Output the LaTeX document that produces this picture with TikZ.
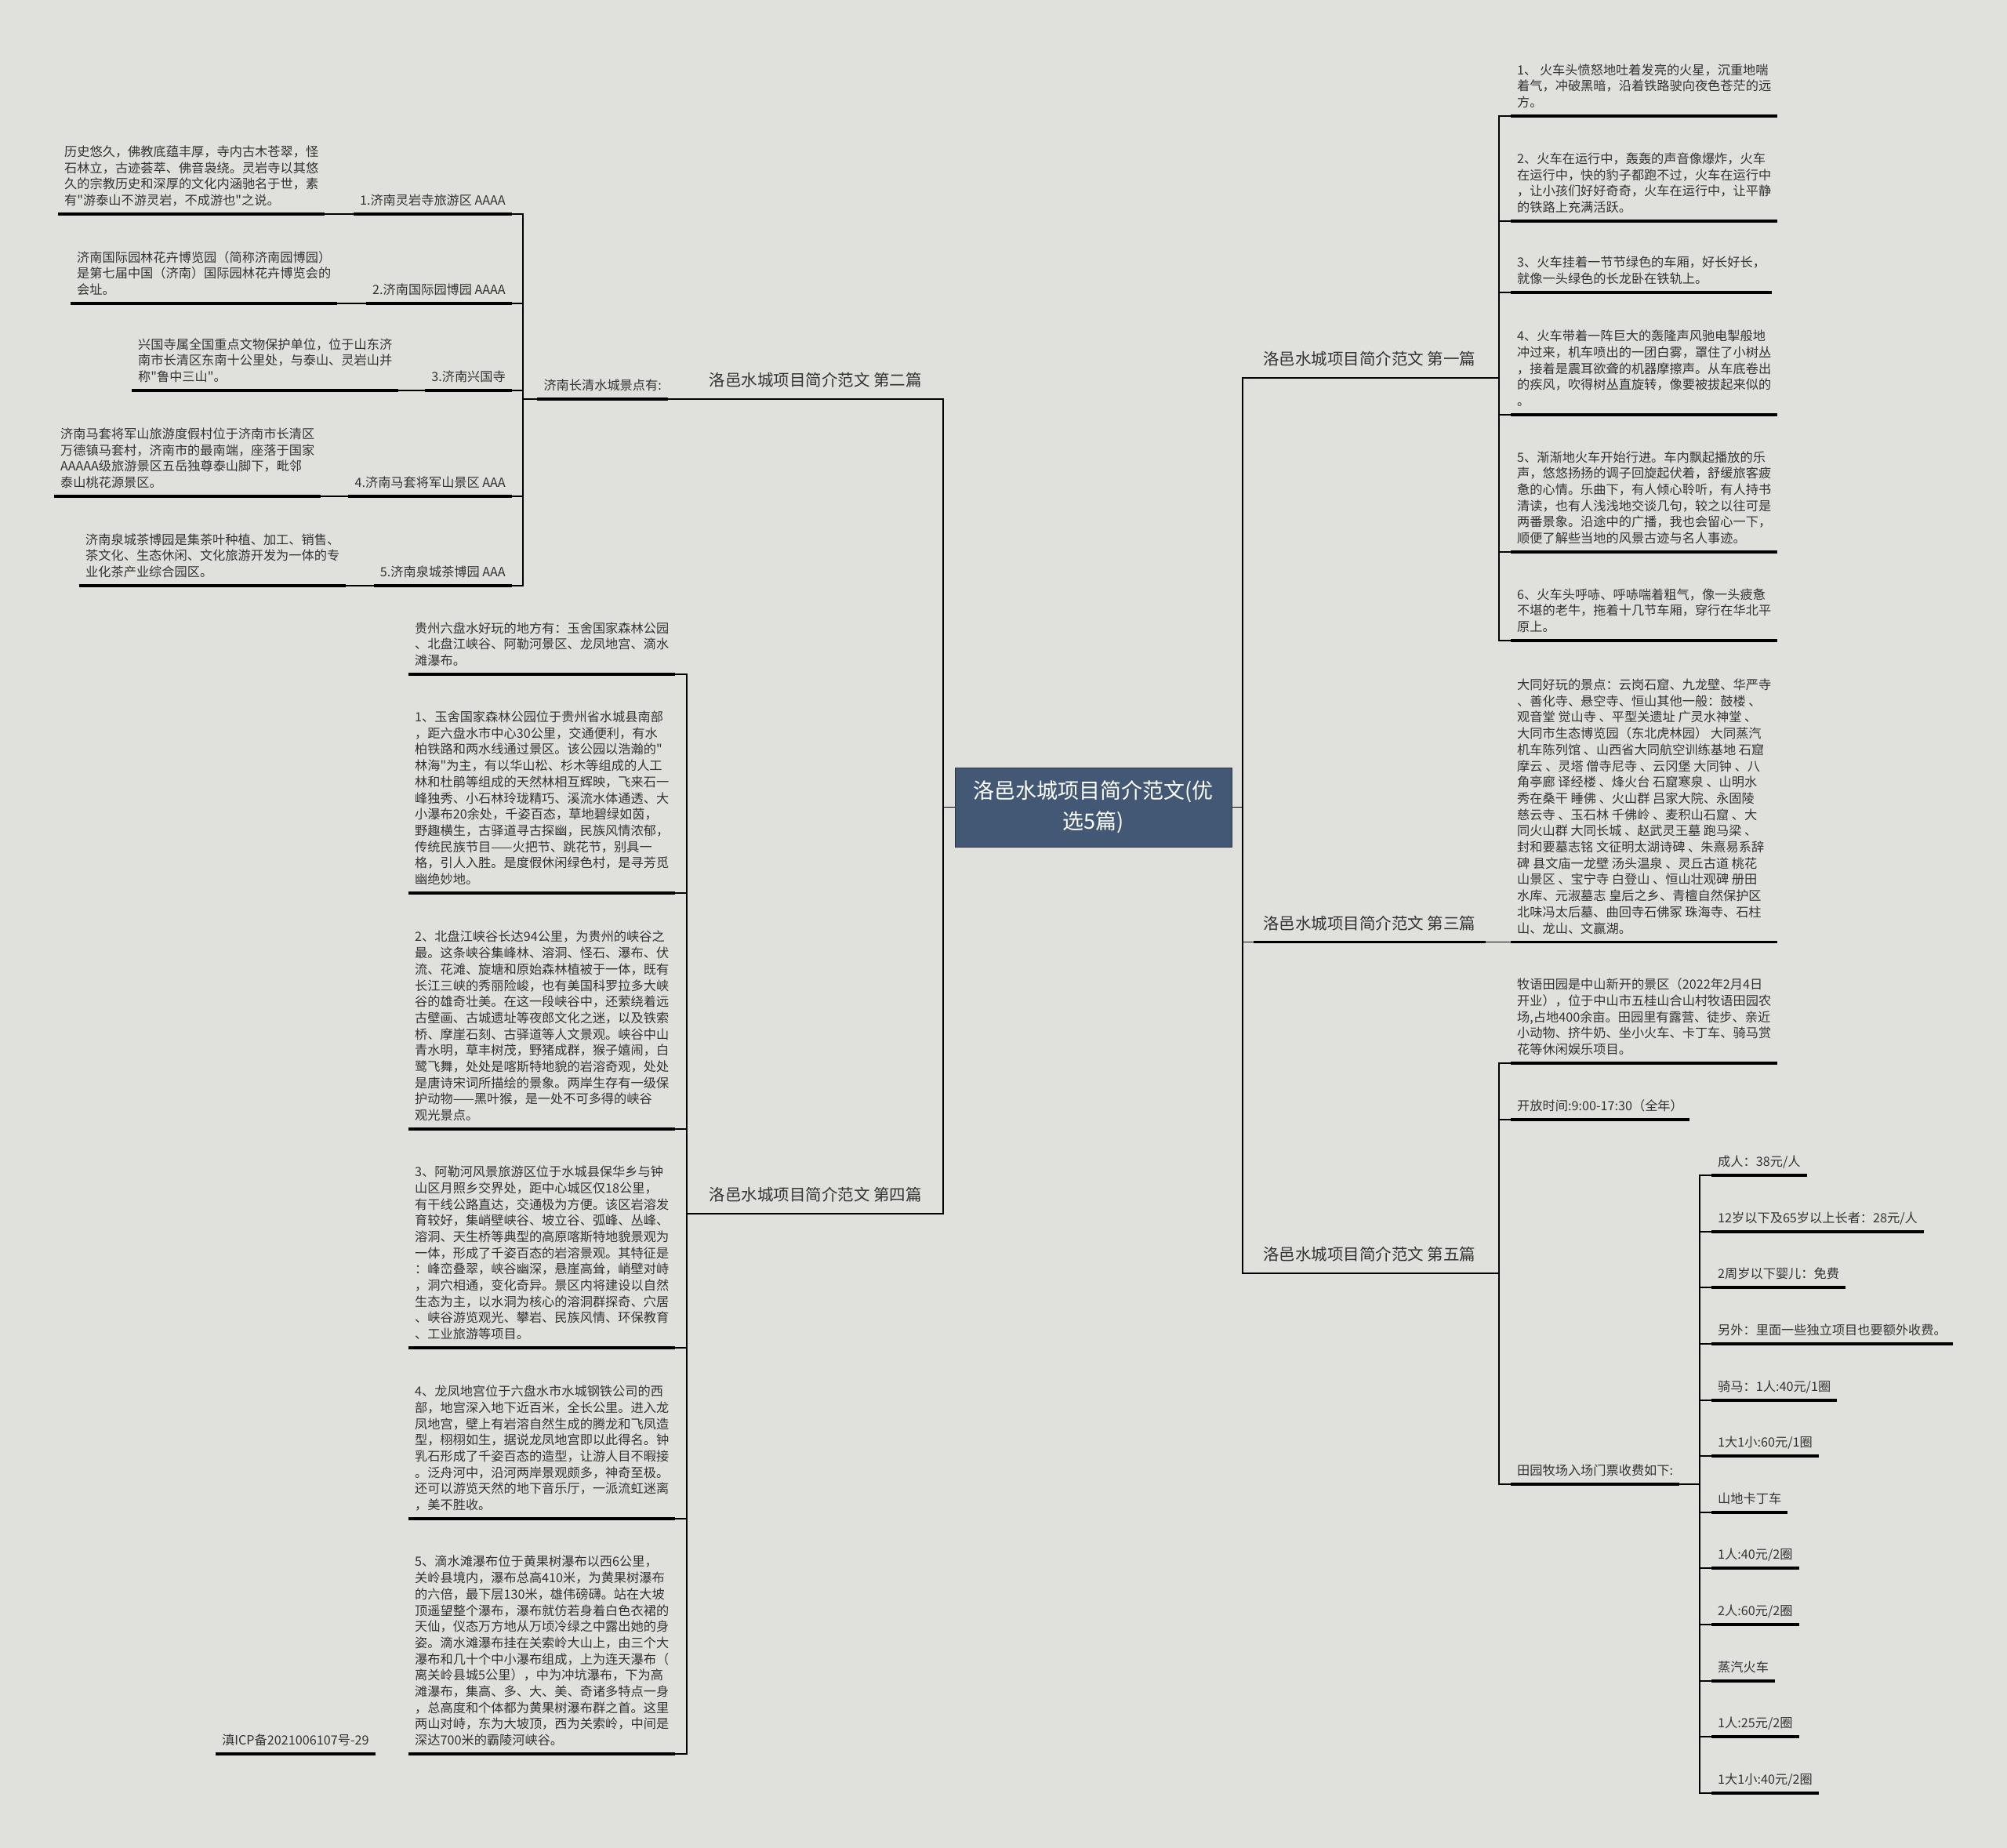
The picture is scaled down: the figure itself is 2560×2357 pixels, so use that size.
\documentclass[tikz,border=0pt]{standalone}
\usepackage{fontspec}
\setmainfont{Noto Sans CJK SC}[Ligatures=TeXOff]
\usepackage{xcolor}
\definecolor{bgcol}{RGB}{224,225,221}
\definecolor{rootblue}{RGB}{66,88,117}
\definecolor{txtgray}{RGB}{51,51,51}
\newcommand\leaffont{\fontsize{16.2}{20.7}\selectfont}
\newcommand\branchfont{\fontsize{20.5}{25}\selectfont}
\newcommand\rootfont{\fontsize{27}{39}\selectfont}

\begin{document}
\begin{tikzpicture}[x=1pt, y=-1pt,
        link/.style={draw=black, line width=1.6pt},
        uline/.style={draw=black, line width=3.5pt},
        bline/.style={draw=black, line width=2.4pt},
        root/.style={draw=rootblue!60!black, line width=1pt, fill=rootblue, text=white, font=\rootfont,
            align=center, minimum width=353pt, minimum height=101pt, inner sep=0pt},
        branch/.style={font=\branchfont, text=txtgray, anchor=south west, inner xsep=12pt, inner ysep=8.5pt,
            execute at end node=\strut,
            append after command={(\tikzlastnode.south west) edge[bline] (\tikzlastnode.south east)}},
        leaf/.style={font=\leaffont, text=txtgray, align=left, anchor=south west, inner xsep=8pt, inner ysep=5pt,
            execute at end node=\strut,
            append after command={(\tikzlastnode.south west) edge[uline] (\tikzlastnode.south east)}}]

        \fill[bgcol] (0,0) rectangle (2560,2357);
        \useasboundingbox (0,0) rectangle (2560,2357);

        \node[root] (root) at (1394.5,1029.5) {洛邑水城项目简介范文(优\\选5篇)};

        \node[branch] (b1) at (1599,482) {洛邑水城项目简介范文 第一篇};
        \node[branch] (b3) at (1599,1201.5) {洛邑水城项目简介范文 第三篇};
        \node[branch] (b5) at (1599,1624) {洛邑水城项目简介范文 第五篇};
        \node[branch, anchor=south east] (b2) at (1188,509) {洛邑水城项目简介范文 第二篇};
        \node[branch, anchor=south east] (b4) at (1188,1548) {洛邑水城项目简介范文 第四篇};

        \coordinate (rbus) at (1585,1029.5);
        \coordinate (lbus) at (1203,1029.5);
        \foreach \b in {b1,b3,b5}
            \draw[link] (root.east) -- (rbus) |- (\b.south west);
        \foreach \b in {b2,b4}
            \draw[link] (root.west) -- (lbus) |- (\b.south east);

        \node[leaf] (a1) at (1927,148) {1、 火车头愤怒地吐着发亮的火星，沉重地喘\\着气，冲破黑暗，沿着铁路驶向夜色苍茫的远\\方。};
        \node[leaf] (a2) at (1927,282) {2、火车在运行中，轰轰的声音像爆炸，火车\\在运行中，快的豹子都跑不过，火车在运行中\\，让小孩们好好奇奇，火车在运行中，让平静\\的铁路上充满活跃。};
        \node[leaf] (a3) at (1927,373) {3、火车挂着一节节绿色的车厢，好长好长，\\就像一头绿色的长龙卧在铁轨上。};
        \node[leaf] (a4) at (1927,529) {4、火车带着一阵巨大的轰隆声风驰电掣般地\\冲过来，机车喷出的一团白雾，罩住了小树丛\\，接着是震耳欲聋的机器摩擦声。从车底卷出\\的疾风，吹得树丛直旋转，像要被拔起来似的\\。};
        \node[leaf] (a5) at (1927,704) {5、渐渐地火车开始行进。车内飘起播放的乐\\声，悠悠扬扬的调子回旋起伏着，舒缓旅客疲\\惫的心情。乐曲下，有人倾心聆听，有人持书\\清读，也有人浅浅地交谈几句，较之以往可是\\两番景象。沿途中的广播，我也会留心一下，\\顺便了解些当地的风景古迹与名人事迹。};
        \node[leaf] (a6) at (1927,817) {6、火车头呼哧、呼哧喘着粗气，像一头疲惫\\不堪的老牛，拖着十几节车厢，穿行在华北平\\原上。};

        \coordinate (fbus) at (1912,482);
        \foreach \n in {a1,a2,a3,a4,a5,a6}
            \draw[link] (b1.south east) -- (fbus) |- (\n.south west);

        \node[leaf] (t1) at (1927,1201.5) {大同好玩的景点：云岗石窟、九龙壁、华严寺\\、善化寺、悬空寺、恒山其他一般：鼓楼 、\\观音堂 觉山寺 、平型关遗址 广灵水神堂 、\\大同市生态博览园（东北虎林园） 大同蒸汽\\机车陈列馆 、山西省大同航空训练基地 石窟\\摩云 、灵塔 僧寺尼寺 、云冈堡 大同钟 、八\\角亭廊 译经楼 、烽火台 石窟寒泉 、山明水\\秀在桑干 睡佛 、火山群 吕家大院、永固陵\\慈云寺 、玉石林 千佛岭 、麦积山石窟 、大\\同火山群 大同长城 、赵武灵王墓 跑马梁 、\\封和要墓志铭 文征明太湖诗碑 、朱熹易系辞\\碑 县文庙一龙壁 汤头温泉 、灵丘古道 桃花\\山景区 、宝宁寺 白登山 、恒山壮观碑 册田\\水库、元淑墓志 皇后之乡、青檀自然保护区\\北味冯太后墓、曲回寺石佛冢 珠海寺、石柱\\山、龙山、文赢湖。};
        \draw[link] (b3.south east) -- (t1.south west);

        \node[leaf] (m1) at (1927,1356) {牧语田园是中山新开的景区（2022年2月4日\\开业），位于中山市五桂山合山村牧语田园农\\场,占地400余亩。田园里有露营、徒步、亲近\\小动物、挤牛奶、坐小火车、卡丁车、骑马赏\\花等休闲娱乐项目。};
        \node[leaf] (m2) at (1927,1428) {开放时间:9:00-17:30（全年）};
        \node[leaf] (m3) at (1927,1893) {田园牧场入场门票收费如下:};

        \coordinate (mbus) at (1912,1624);
        \foreach \n in {m1,m2,m3}
            \draw[link] (b5.south east) -- (mbus) |- (\n.south west);

        \node[leaf] (p1) at (2183,1499) {成人：38元/人};
        \node[leaf] (p2) at (2183,1571) {12岁以下及65岁以上长者：28元/人};
        \node[leaf] (p3) at (2183,1642) {2周岁以下婴儿：免费};
        \node[leaf] (p4) at (2183,1714) {另外：里面一些独立项目也要额外收费。};
        \node[leaf] (p5) at (2183,1786) {骑马：1人:40元/1圈};
        \node[leaf] (p6) at (2183,1857) {1大1小:60元/1圈};
        \node[leaf] (p7) at (2183,1929) {山地卡丁车};
        \node[leaf] (p8) at (2183,2000) {1人:40元/2圈};
        \node[leaf] (p9) at (2183,2072) {2人:60元/2圈};
        \node[leaf] (p10) at (2183,2144) {蒸汽火车};
        \node[leaf] (p11) at (2183,2215) {1人:25元/2圈};
        \node[leaf] (p12) at (2183,2287) {1大1小:40元/2圈};

        \coordinate (pbus) at (2168,1893);
        \foreach \i in {1,...,12}
            \draw[link] (m3.south east) -- (pbus) |- (p\i.south west);

        \node[leaf, anchor=south east] (jn) at (852,509) {济南长清水城景点有:};
        \draw[link] (jn.south east) -- (b2.south west);

        \node[leaf, anchor=south east] (c1) at (653,273) {1.济南灵岩寺旅游区 AAAA};
        \node[leaf, anchor=south east] (c2) at (653,387) {2.济南国际园博园 AAAA};
        \node[leaf, anchor=south east] (c3) at (653,498) {3.济南兴国寺};
        \node[leaf, anchor=south east] (c4) at (653,633) {4.济南马套将军山景区 AAA};
        \node[leaf, anchor=south east] (c5) at (653,747) {5.济南泉城茶博园 AAA};

        \coordinate (jbus) at (667,509);
        \foreach \c in {c1,c2,c3,c4,c5}
            \draw[link] (jn.south west) -- (jbus) |- (\c.south east);

        \node[leaf] (d1) at (74,273) {历史悠久，佛教底蕴丰厚，寺内古木苍翠，怪\\石林立，古迹荟萃、佛音袅绕。灵岩寺以其悠\\久的宗教历史和深厚的文化内涵驰名于世，素\\有"游泰山不游灵岩，不成游也"之说。};
        \node[leaf] (d2) at (90,387) {济南国际园林花卉博览园（简称济南园博园）\\是第七届中国（济南）国际园林花卉博览会的\\会址。};
        \node[leaf] (d3) at (168,498) {兴国寺属全国重点文物保护单位，位于山东济\\南市长清区东南十公里处，与泰山、灵岩山并\\称"鲁中三山"。};
        \node[leaf] (d4) at (69,633) {济南马套将军山旅游度假村位于济南市长清区\\万德镇马套村，济南市的最南端，座落于国家\\AAAAA级旅游景区五岳独尊泰山脚下，毗邻\\泰山桃花源景区。};
        \node[leaf] (d5) at (101,747) {济南泉城茶博园是集茶叶种植、加工、销售、\\茶文化、生态休闲、文化旅游开发为一体的专\\业化茶产业综合园区。};

        \foreach \i in {1,...,5}
            \draw[link] (d\i.south east) -- (c\i.south west);

        \node[leaf] (g0) at (521,860) {贵州六盘水好玩的地方有：玉舍国家森林公园\\、北盘江峡谷、阿勒河景区、龙凤地宫、滴水\\滩瀑布。};
        \node[leaf] (g1) at (521,1139) {1、玉舍国家森林公园位于贵州省水城县南部\\，距六盘水市中心30公里，交通便利，有水\\柏铁路和两水线通过景区。该公园以浩瀚的"\\林海"为主，有以华山松、杉木等组成的人工\\林和杜鹃等组成的天然林相互辉映，飞来石一\\峰独秀、小石林玲珑精巧、溪流水体通透、大\\小瀑布20余处，千姿百态，草地碧绿如茵，\\野趣横生，古驿道寻古探幽，民族风情浓郁，\\传统民族节目——火把节、跳花节，别具一\\格，引人入胜。是度假休闲绿色村，是寻芳觅\\幽绝妙地。};
        \node[leaf] (g2) at (521,1440) {2、北盘江峡谷长达94公里，为贵州的峡谷之\\最。这条峡谷集峰林、溶洞、怪石、瀑布、伏\\流、花滩、旋塘和原始森林植被于一体，既有\\长江三峡的秀丽险峻，也有美国科罗拉多大峡\\谷的雄奇壮美。在这一段峡谷中，还萦绕着远\\古壁画、古城遗址等夜郎文化之迷，以及铁索\\桥、摩崖石刻、古驿道等人文景观。峡谷中山\\青水明，草丰树茂，野猪成群，猴子嬉闹，白\\鹭飞舞，处处是喀斯特地貌的岩溶奇观，处处\\是唐诗宋词所描绘的景象。两岸生存有一级保\\护动物——黑叶猴，是一处不可多得的峡谷\\观光景点。};
        \node[leaf] (g3) at (521,1719) {3、阿勒河风景旅游区位于水城县保华乡与钟\\山区月照乡交界处，距中心城区仅18公里，\\有干线公路直达，交通极为方便。该区岩溶发\\育较好，集峭壁峡谷、坡立谷、弧峰、丛峰、\\溶洞、天生桥等典型的高原喀斯特地貌景观为\\一体，形成了千姿百态的岩溶景观。其特征是\\：峰峦叠翠，峡谷幽深，悬崖高耸，峭壁对峙\\，洞穴相通，变化奇异。景区内将建设以自然\\生态为主，以水洞为核心的溶洞群探奇、穴居\\、峡谷游览观光、攀岩、民族风情、环保教育\\、工业旅游等项目。};
        \node[leaf] (g4) at (521,1937) {4、龙凤地宫位于六盘水市水城钢铁公司的西\\部，地宫深入地下近百米，全长公里。进入龙\\凤地宫，壁上有岩溶自然生成的腾龙和飞凤造\\型，栩栩如生，据说龙凤地宫即以此得名。钟\\乳石形成了千姿百态的造型，让游人目不暇接\\。泛舟河中，沿河两岸景观颇多，神奇至极。\\还可以游览天然的地下音乐厅，一派流虹迷离\\，美不胜收。};
        \node[leaf] (g5) at (521,2237) {5、滴水滩瀑布位于黄果树瀑布以西6公里，\\关岭县境内，瀑布总高410米，为黄果树瀑布\\的六倍，最下层130米，雄伟磅礴。站在大坡\\顶遥望整个瀑布，瀑布就仿若身着白色衣裙的\\天仙，仪态万方地从万顷冷绿之中露出她的身\\姿。滴水滩瀑布挂在关索岭大山上，由三个大\\瀑布和几十个中小瀑布组成，上为连天瀑布（\\离关岭县城5公里），中为冲坑瀑布，下为高\\滩瀑布，集高、多、大、美、奇诸多特点一身\\，总高度和个体都为黄果树瀑布群之首。这里\\两山对峙，东为大坡顶，西为关索岭，中间是\\深达700米的霸陵河峡谷。};

        \coordinate (gbus) at (876,1548);
        \foreach \g in {g0,g1,g2,g3,g4,g5}
            \draw[link] (b4.south west) -- (gbus) |- (\g.south east);

        \node[leaf] (icp) at (275,2237) {滇ICP备2021006107号-29};

\end{tikzpicture}
\end{document}
